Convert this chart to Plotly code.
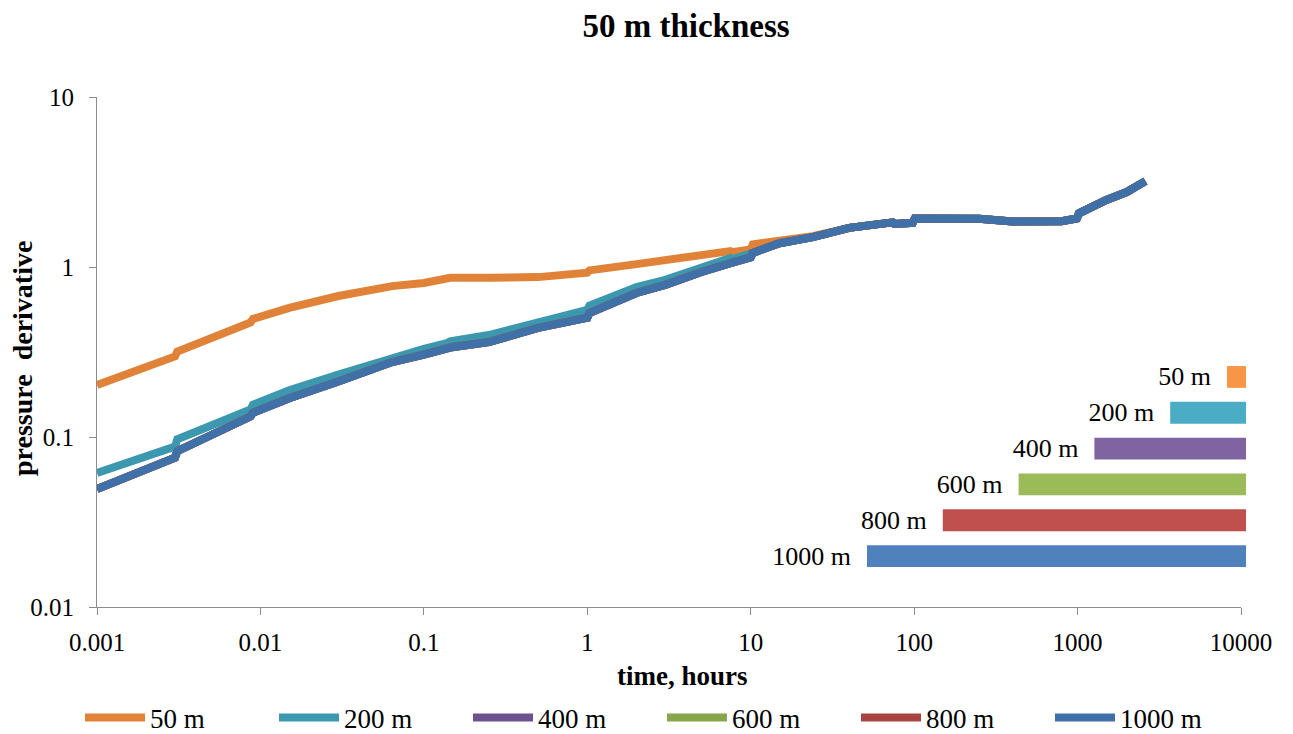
import plotly.graph_objects as go

# Elapsed time (hours) shared by every simulated case
hours = [0.001, 0.0018, 0.003, 0.0031, 0.005, 0.0087, 0.009, 0.015, 0.03, 0.062,
         0.064, 0.1, 0.14, 0.145, 0.25, 0.5, 1.0, 1.03, 2.0, 3.0,
         5.0, 7.5, 7.7, 10.0, 10.3, 15.0, 24.0, 40.0, 68.0, 74.0,
         76.0, 98.0, 101.0, 150.0, 250.0, 400.0, 600.0, 780.0, 800.0, 990.0,
         1020.0, 1500.0, 2000.0, 2600.0]

# Pressure derivative per lateral extent
deriv_50 = [0.202, 0.248, 0.298, 0.318, 0.385, 0.472, 0.495, 0.575, 0.675, 0.763,
            0.772, 0.805, 0.842, 0.865, 0.864, 0.872, 0.925, 0.955, 1.04, 1.10,
            1.19, 1.24, 1.22, 1.27, 1.36, 1.44, 1.52, 1.70, 1.84, 1.83,
            1.79, 1.82, 1.93, 1.94, 1.92, 1.85, 1.86, 1.89, 1.86, 1.93,
            2.07, 2.48, 2.76, 3.20]
deriv_200 = [0.0614, 0.0741, 0.0878, 0.097, 0.118, 0.145, 0.155, 0.188, 0.233, 0.292,
             0.295, 0.330, 0.358, 0.366, 0.398, 0.475, 0.560, 0.592, 0.763, 0.84,
             1.0, 1.13, 1.11, 1.17, 1.21, 1.38, 1.50, 1.70, 1.84, 1.83,
             1.79, 1.82, 1.93, 1.94, 1.92, 1.85, 1.86, 1.89, 1.86, 1.93,
             2.07, 2.48, 2.76, 3.20]
deriv_400 = [0.0494, 0.0618, 0.0756, 0.0825, 0.104, 0.132, 0.139, 0.169, 0.212, 0.272,
             0.276, 0.305, 0.331, 0.336, 0.362, 0.438, 0.503, 0.536, 0.703, 0.785,
             0.935, 1.07, 1.06, 1.14, 1.21, 1.38, 1.50, 1.70, 1.84, 1.83,
             1.79, 1.82, 1.93, 1.94, 1.92, 1.85, 1.86, 1.89, 1.86, 1.93,
             2.07, 2.48, 2.76, 3.20]
deriv_600 = list(deriv_400)
deriv_800 = list(deriv_400)
deriv_1000 = list(deriv_400)

case_names = ["50 m", "200 m", "400 m", "600 m", "800 m", "1000 m"]
case_lengths = [50, 200, 400, 600, 800, 1000]

x_tick_vals = [0.001, 0.01, 0.1, 1, 10, 100, 1000, 10000]
x_tick_text = ["0.001", "0.01", "0.1", "1", "10", "100", "1000", "10000"]
y_tick_vals = [0.01, 0.1, 1, 10]
y_tick_text = ["0.01", "0.1", "1", "10"]

line_colors = ["#E08338", "#3C98AF", "#6C538F", "#87A54B", "#A84441", "#4070A8"]
bar_colors = ["#F79646", "#4BACC6", "#8064A2", "#9BBB59", "#C0504D", "#4F81BD"]

FONT = "Liberation Serif"
AXIS_GREY = "#8C8C8C"

fig = go.Figure()

series = [deriv_50, deriv_200, deriv_400, deriv_600, deriv_800, deriv_1000]
for name, ys, col in zip(case_names, series, line_colors):
    fig.add_trace(go.Scatter(
        x=hours, y=ys, name=name, mode="lines",
        line=dict(color=col, width=8),
        xaxis="x", yaxis="y",
    ))

# Inset bars showing the lateral extent of each case
for name, length, col in zip(case_names, case_lengths, bar_colors):
    fig.add_trace(go.Bar(
        x=[length], y=[name], orientation="h",
        marker=dict(color=col, line=dict(width=0)),
        text=[name + "\u00a0\u00a0"], textposition="outside",
        constraintext="none", cliponaxis=False,
        textfont=dict(family=FONT, size=26, color="#000000"),
        showlegend=False, hoverinfo="skip",
        xaxis="x2", yaxis="y2",
    ))

W, H = 1293, 734
ML, MR, MT, MB = 97, 40, 97, 127
PW = W - ML - MR
PH = H - MT - MB


def px_x(p):
    return (p - ML) / PW


def px_y(p):
    return (H - MB - p) / PH


fig.update_layout(
    width=W, height=H,
    margin=dict(l=ML, r=MR, t=MT, b=MB, autoexpand=False),
    paper_bgcolor="white", plot_bgcolor="white",
    font=dict(family=FONT, size=26, color="#000000"),
    title=dict(text="<b>50 m thickness</b>", x=px_x(686), xref="paper",
               xanchor="center", y=1 - 25 / H, yanchor="middle", yref="container",
               font=dict(family=FONT, size=33, color="#000000")),
    xaxis=dict(type="log", range=[-3, 4], domain=[0, px_x(1241)],
               tickvals=x_tick_vals, ticktext=x_tick_text,
               showgrid=False, zeroline=False, automargin=False,
               showline=True, linecolor=AXIS_GREY, linewidth=1,
               ticks="outside", ticklen=7, tickcolor=AXIS_GREY,
               ticklabelstandoff=6,
               tickfont=dict(family=FONT, size=25)),
    yaxis=dict(type="log", range=[-2, 1], automargin=False,
               tickvals=y_tick_vals, ticktext=y_tick_text,
               showgrid=False, zeroline=False,
               showline=True, linecolor=AXIS_GREY, linewidth=1,
               ticks="outside", ticklen=7, tickcolor=AXIS_GREY,
               ticklabelstandoff=10,
               tickfont=dict(family=FONT, size=25)),
    xaxis2=dict(domain=[px_x(867), px_x(1246)], range=[1000, 0],
                anchor="y2", visible=False, fixedrange=True),
    yaxis2=dict(domain=[px_y(574), px_y(359)], anchor="x2",
                categoryorder="array", categoryarray=case_names,
                autorange="reversed", visible=False, fixedrange=True),
    bargap=0.39,
    showlegend=True,
    legend=dict(orientation="h", x=px_x(80), xanchor="left",
                y=px_y(718), yanchor="middle",
                itemwidth=60, entrywidth=119, entrywidthmode="pixels",
                font=dict(family=FONT, size=27),
                bgcolor="rgba(0,0,0,0)"),
    annotations=[
        dict(text="<b>pressure  derivative</b>", textangle=-90,
             x=px_x(22), y=px_y(359), xref="paper", yref="paper",
             xanchor="center", yanchor="middle", showarrow=False,
             font=dict(family=FONT, size=28, color="#000000")),
        dict(text="<b>time, hours</b>",
             x=px_x(682), y=px_y(676), xref="paper", yref="paper",
             xanchor="center", yanchor="middle", showarrow=False,
             font=dict(family=FONT, size=27, color="#000000")),
    ],
)

fig.write_html("out.html")
